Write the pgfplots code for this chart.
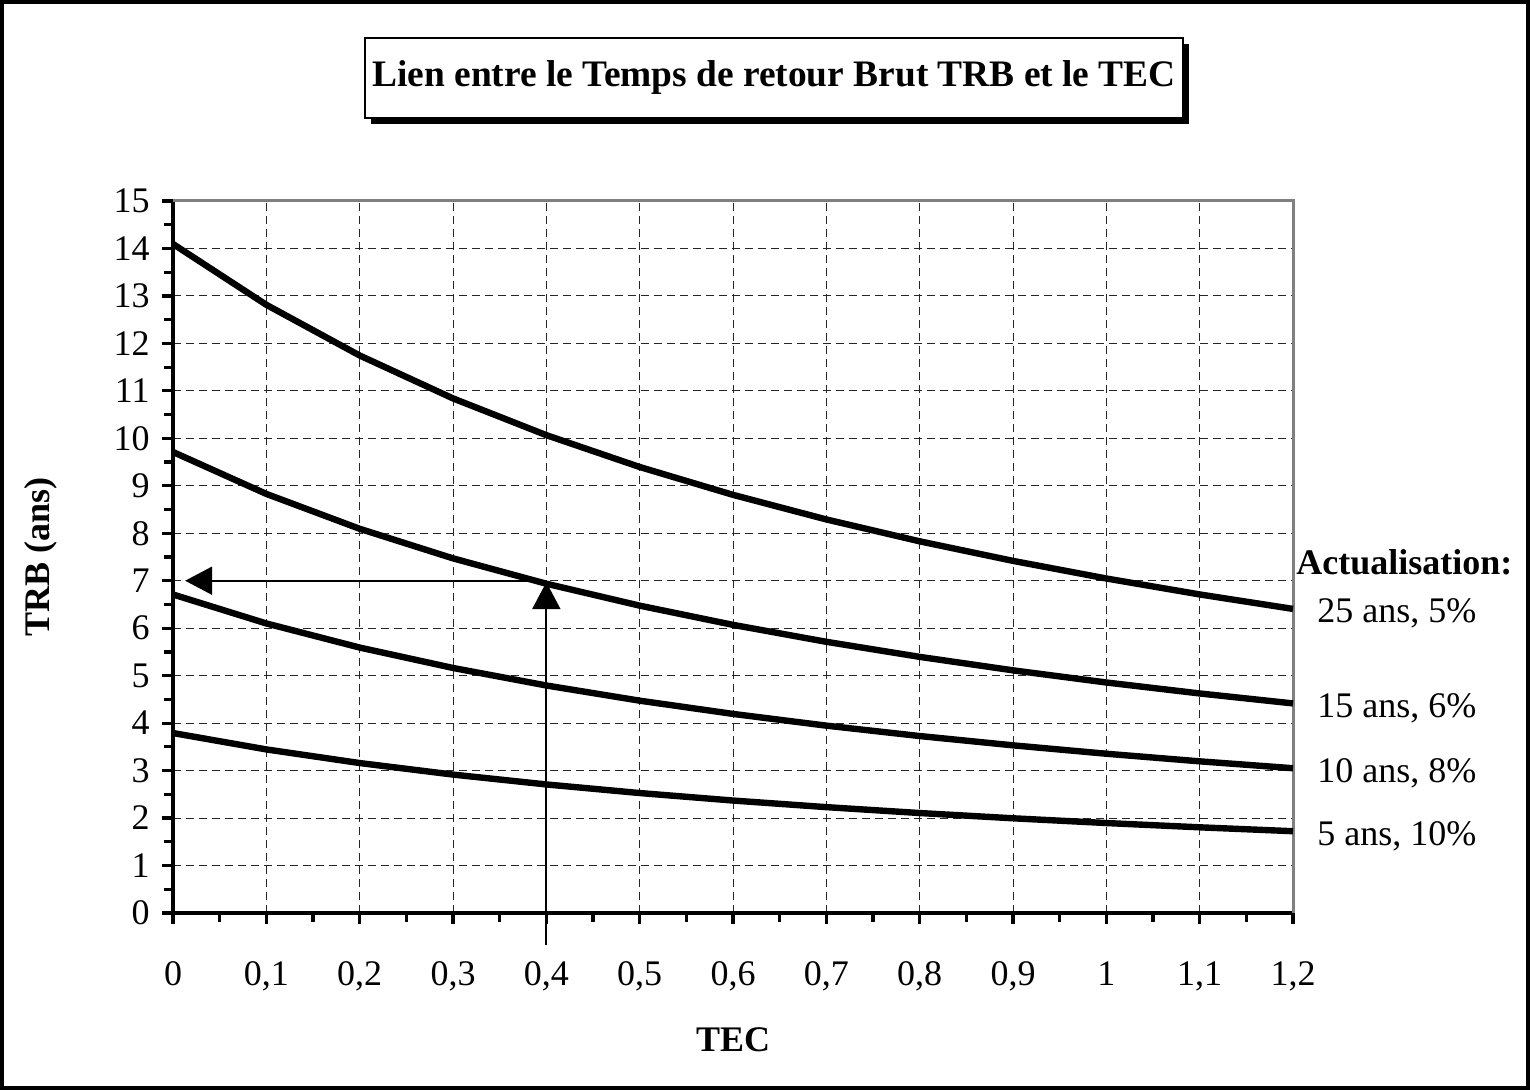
\documentclass[border=0pt]{standalone}
\usepackage{pgfplots}
\pgfplotsset{compat=1.18}
\usepackage{fontspec}
\setmainfont{Liberation Serif}
\usetikzlibrary{arrows.meta}
\begin{document}
\fontsize{18}{21.6}\selectfont
\begin{tikzpicture}[x=1pt,y=1pt]
\useasboundingbox (0,0) rectangle (765,545);
\draw[line width=2pt] (1,1) rectangle (764,544);
% title box
\fill[black] (185.5,483) rectangle (594.5,523);
\draw[fill=white, line width=1pt] (182.5,486) rectangle (591.5,526);
\node[font=\fontsize{18.7}{22}\selectfont\bfseries] at (387,506) {Lien entre le Temps de retour Brut TRB et le TEC};
% axis labels
\node[font=\bfseries] at (366.5,25) {TEC};
\node[font=\bfseries, rotate=90] at (20.5,266.5) {TRB (ans)};
% right labels
\node[font=\bfseries, anchor=west, inner sep=0pt] at (648,264) {Actualisation:};
\node[anchor=west, inner sep=0pt] at (658.5,238.5) {25 ans, 5\%};
\node[anchor=west, inner sep=0pt] at (658.5,191) {15 ans, 6\%};
\node[anchor=west, inner sep=0pt] at (658.5,158.5) {10 ans, 8\%};
\node[anchor=west, inner sep=0pt] at (658.5,127) {5 ans, 10\%};
\begin{axis}[
  at={(86.5pt,88.5pt)}, anchor=south west,
  width=560pt, height=356pt, scale only axis,
  xmin=0, xmax=1.2, ymin=0, ymax=15,
  axis x line*=bottom, axis y line*=left,
  axis line style={line width=2.2pt, black},
  clip=false,
  xtick={0,0.1,0.2,0.3,0.4,0.5,0.6,0.7,0.8,0.9,1,1.1,1.2},
  ytick={0,1,...,15},
  minor x tick num=1, minor y tick num=1,
  tick align=outside,
  major tick length=5.5pt, minor tick length=4.5pt,
  tick style={line width=1.6pt, black},
  grid=major,
  major grid style={black!85, line width=0.5pt, dash pattern=on 4pt off 2.5pt},
  /pgf/number format/assume math mode=true,
  /pgf/number format/use comma,
  ticklabel style={font=\fontsize{18}{21.6}\selectfont},
  xticklabel style={yshift=-12.5pt},
  yticklabel style={xshift=0pt},
]
\draw[black!50, line width=1.5pt] (rel axis cs:0,1) -- (rel axis cs:1,1) -- (rel axis cs:1,0);
\addplot[black, line width=3.2pt, line join=round] coordinates {
(0,14.094) (0.1,12.813) (0.2,11.745) (0.3,10.841) (0.4,10.067) (0.5,9.396) (0.6,8.809)
(0.7,8.291) (0.8,7.830) (0.9,7.418) (1.0,7.047) (1.1,6.711) (1.2,6.406)};
\addplot[black, line width=3.2pt, line join=round] coordinates {
(0,9.712) (0.1,8.829) (0.2,8.094) (0.3,7.471) (0.4,6.937) (0.5,6.475) (0.6,6.070)
(0.7,5.713) (0.8,5.396) (0.9,5.112) (1.0,4.856) (1.1,4.625) (1.2,4.415)};
\addplot[black, line width=3.2pt, line join=round] coordinates {
(0,6.710) (0.1,6.100) (0.2,5.592) (0.3,5.162) (0.4,4.793) (0.5,4.473) (0.6,4.194)
(0.7,3.947) (0.8,3.728) (0.9,3.532) (1.0,3.355) (1.1,3.195) (1.2,3.050)};
\addplot[black, line width=3.2pt, line join=round] coordinates {
(0,3.791) (0.1,3.446) (0.2,3.159) (0.3,2.916) (0.4,2.708) (0.5,2.527) (0.6,2.369)
(0.7,2.230) (0.8,2.106) (0.9,1.995) (1.0,1.895) (1.1,1.805) (1.2,1.723)};
\draw[line width=1pt, -{Triangle[length=13.5pt,width=14pt]}] (axis cs:0.4,-0.67) -- (axis cs:0.4,6.97);
\draw[line width=1pt, -{Triangle[length=13.5pt,width=14pt]}] (axis cs:0.4,7) -- (axis cs:0.013,7);
\end{axis}
\end{tikzpicture}
\end{document}
